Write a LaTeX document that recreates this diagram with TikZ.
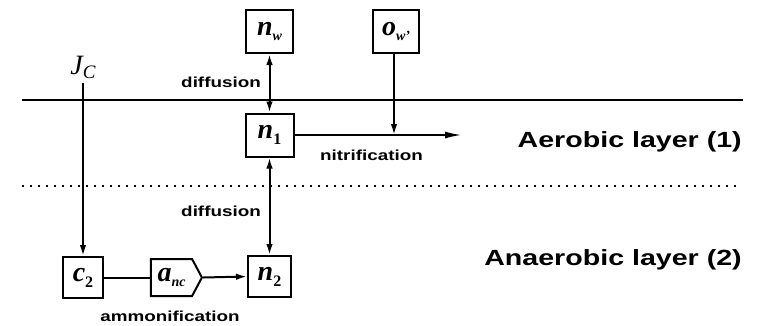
\documentclass[tikz,border=0pt]{standalone}
\usepackage{fontspec}
\setmainfont{Liberation Serif}
\newfontfamily\labfont[FakeStretch=1.3]{Liberation Sans}
\usetikzlibrary{arrows.meta,shapes.symbols}
\newcommand{\vname}[2]{{\fontsize{28}{28}\selectfont\bfseries\itshape #1}\raisebox{-5pt}{\fontsize{14}{14}\selectfont\bfseries\itshape #2}}
\newcommand{\vnum}[2]{{\fontsize{28}{28}\selectfont\bfseries\itshape #1}\raisebox{-6pt}{\fontsize{16}{16}\selectfont\bfseries #2}}
\tikzset{
  box/.style={draw, line width=2pt, inner sep=0pt},
  flow/.style={line width=2pt},
  tip/.style={-{Latex[length=11pt,width=6.5pt]}},
  dtip/.style={{Latex[length=11pt,width=6.5pt]}-{Latex[length=11pt,width=6.5pt]}},
  lab/.style={font=\labfont\bfseries\fontsize{14.5}{16}\selectfont, inner sep=0pt},
  layer/.style={font=\labfont\bfseries\fontsize{22}{24}\selectfont, inner sep=0pt}
}
\begin{document}
\begin{tikzpicture}[x=1pt,y=-1pt]
\useasboundingbox (0,0) rectangle (773,325);
% layer boundaries
\draw[line width=1.6pt] (22,100) -- (743,100);
\draw[line width=1.6pt, dash pattern=on 1.5pt off 6.5pt] (22,186) -- (740,186);
% boxes
\node[box, minimum width=47pt, minimum height=43pt] (nw) at (269.5,31.5) {\vname{n}{w}};
\node[box, minimum width=46pt, minimum height=43pt] (ow) at (396,31.5) {\vname{o}{w'}};
\node[box, minimum width=48pt, minimum height=43pt] (n1) at (269.5,135) {\vnum{n}{1}};
\node[box, minimum width=40pt, minimum height=41pt] (c2) at (83,277.5) {\vnum{c}{2}};
\node[box, minimum width=43pt, minimum height=41pt] (n2) at (269.5,276.5) {\vnum{n}{2}};
\node[box, shape=signal, signal to=east, signal pointer angle=124, minimum width=51pt, minimum height=37pt] (anc) at (171.5,277.5) {\vname{a}{nc}};
% J_C
\node[inner sep=0pt, anchor=south] (jc) at (83,79) {{\fontsize{28}{28}\selectfont\itshape J}\raisebox{-4pt}{\fontsize{19}{19}\selectfont\itshape C}};
\coordinate (jcstart) at (83,83);
% connectors
\draw[flow, dtip] (nw.south) -- (n1.north);
\draw[flow, dtip] (n1.south) -- (n2.north);
\coordinate (nitend) at (462,135);
\coordinate (nitmeet) at (394,135);
\draw[flow, -{Latex[length=17pt,width=7pt]}] (n1.east) -- (nitend);
\draw[flow, tip] (ow.south -| nitmeet) -- (nitmeet);
\draw[flow, tip] (jcstart) -- (c2.north);
\draw[flow] (c2.east) -- (anc.west);
\draw[flow, tip] (anc.east) -- (n2.west);
% labels
\node[lab, anchor=east] (dif1) at (261,82) {diffusion};
\node[lab, anchor=east] (dif2) at (261,211) {diffusion};
\node[lab] (nitr) at (371.5,155) {nitrification};
\node[lab] (ammo) at (170,316) {ammonification};
\node[layer, anchor=base east] (aer) at (742,147) {Aerobic layer (1)};
\node[layer, anchor=base east] (anaer) at (742,265) {Anaerobic layer (2)};
\end{tikzpicture}
\end{document}
